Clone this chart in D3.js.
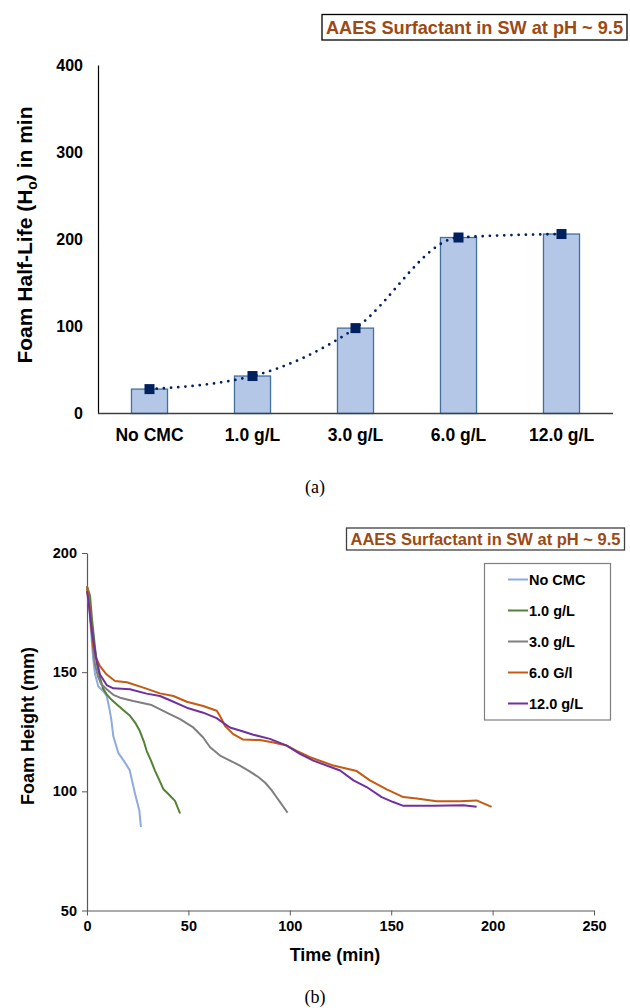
<!DOCTYPE html>
<html>
<head>
<meta charset="utf-8">
<script src="https://cdn.jsdelivr.net/npm/d3@7"></script>
<style>
  body { margin: 0; background: #fff; }
  svg { display: block; font-family: "Liberation Sans", Arial, sans-serif; }
  .bold { font-weight: bold; }
</style>
</head>
<body>
<svg width="630" height="1008"></svg>
<script>
// panel (a) data
var categories = ["No CMC", "1.0 g/L", "3.0 g/L", "6.0 g/L", "12.0 g/L"];
var halfLife = [28, 43, 98, 202, 206];
var halfTicks = [0, 100, 200, 300, 400];

// panel (b) data: [time (min), foam height (mm)]
var seriesNames = ["No CMC", "1.0 g/L", "3.0 g/L", "6.0 G/l", "12.0 g/L"];
var seriesColors = ["#8FAADC", "#548235", "#7F7F7F", "#C55A11", "#7030A0"];
var noCmc = [[0,186],[1,178],[2,167],[3,156],[4,149],[5.6,144],[8,142],[9.7,140],[11,135],[12,130],[13,123],[15.5,116],[18,113],[21,109],[23.7,99],[25.8,92],[26.6,85]];
var cmc1 = [[0,186],[1.5,182],[2.5,172],[4,160],[5,153],[6.4,147.6],[8,143],[9.7,140.7],[12,138.5],[14.6,136.5],[18,134],[21.2,131.7],[24,128.5],[26,125.4],[28,121],[29.4,117],[31.5,113],[33.5,108.7],[35.5,105],[37.6,101],[40,99],[43.4,96],[45.9,90.7]];
var cmc3 = [[0,186],[1,180],[2,170],[3,160],[4,153],[5.5,148],[7,145],[9.7,142.8],[13,140.5],[16.3,139.3],[22.8,137.9],[31.9,136.2],[39.3,133],[45.9,130.3],[52.4,126.8],[57.3,122.6],[60.7,118.5],[65.6,115],[70.5,112.9],[75.4,110.8],[80,108.5],[84.5,106],[88,103.5],[91.1,100.4],[93.5,97.5],[95.2,95.5],[97,93.3],[98.9,91]];
var cmc6 = [[0,186],[1,180],[2,170],[3.1,160.8],[4.5,156],[6.4,152.5],[9.7,149],[13.8,146.3],[19.6,145.8],[27.8,143.5],[36,141.1],[42.6,140],[49.2,137.6],[57.3,135.8],[64,133.8],[66,131],[68,127.5],[72.1,124],[77,121.7],[85.3,121.5],[91.9,120.5],[98.5,119.2],[103.4,117],[110,114.3],[121.5,110.8],[133,108.5],[139.5,104.6],[147.8,100.8],[156,97.6],[162.6,97],[172.4,95.8],[183.9,95.8],[192.1,96.2],[199.5,93.5]];
var cmc12 = [[0,184],[1,178],[2,170],[3.1,163.5],[4.5,156],[6.4,149],[9.7,144.6],[13,143.2],[21.2,142.8],[29.4,141],[36,140],[40.9,138.2],[49.2,135.1],[57.3,133],[63.9,130.7],[70.5,126.8],[77,125.1],[82,123.75],[90.2,122],[98.5,119.2],[105,115.7],[111.6,112.9],[124.8,108.75],[131.4,104.6],[137.9,101.8],[145.3,97.6],[151,95.5],[156,93.9],[170.8,93.9],[185.6,94.2],[192.1,93.5]];
var timeTicks = [0, 50, 100, 150, 200, 250];
var heightTicks = [50, 100, 150, 200];

var titleText = "AAES Surfactant in SW at pH ~ 9.5";
var titleColor = "#9C4A14";
var fontStack = '"Liberation Sans", Arial, sans-serif';

var svg = d3.select('svg');

// ---------- panel (a) ----------
var xa = d3.scaleBand().domain(categories).range([98, 613]).paddingInner(0.65).paddingOuter(0.325);
var ya = d3.scaleLinear().domain([0, 400]).range([413.5, 65]);

var ta = svg.append('g');
ta.append('rect').attr('x', 322).attr('y', 14.5).attr('width', 305).attr('height', 25.5)
  .attr('fill', '#fff').attr('stroke', '#000').attr('stroke-width', 1.3);
ta.append('text').attr('class', 'bold').attr('x', 474.5).attr('y', 33.5)
  .attr('text-anchor', 'middle').attr('font-size', 18.5).attr('fill', titleColor)
  .attr('textLength', 297).attr('lengthAdjust', 'spacingAndGlyphs').text(titleText);

var ay = svg.append('g').attr('transform', 'translate(98,0)')
  .call(d3.axisLeft(ya).tickValues(halfTicks).tickSize(0).tickPadding(15));
ay.select('.domain').attr('stroke', '#000').attr('stroke-width', 1.2);
ay.selectAll('text').attr('class', 'bold').attr('font-size', 16).attr('fill', '#000')
  .attr('font-family', fontStack);

svg.selectAll('rect.bar').data(halfLife).enter().append('rect').attr('class', 'bar')
  .attr('x', function(d, i) { return xa(categories[i]); })
  .attr('y', function(d) { return ya(d); })
  .attr('width', xa.bandwidth())
  .attr('height', function(d) { return ya(0) - ya(d); })
  .attr('fill', '#B4C7E7').attr('stroke', '#41719C').attr('stroke-width', 1.3);

var ax = svg.append('g').attr('transform', 'translate(0,413.5)')
  .call(d3.axisBottom(xa).tickSize(0).tickPadding(15));
ax.select('.domain').attr('d', 'M98,0H613').attr('stroke', '#404040').attr('stroke-width', 1.3);
ax.selectAll('text').attr('class', 'bold').attr('font-size', 17.5).attr('fill', '#000')
  .attr('font-family', fontStack);

var lineA = d3.line()
  .x(function(d, i) { return xa(categories[i]) + xa.bandwidth() / 2; })
  .y(function(d) { return ya(d); })
  .curve(d3.curveMonotoneX);
svg.append('path').datum(halfLife).attr('d', lineA)
  .attr('fill', 'none').attr('stroke', '#002060').attr('stroke-width', 2.8)
  .attr('stroke-linecap', 'round').attr('stroke-dasharray', '0 7.2');

svg.selectAll('rect.mk').data(halfLife).enter().append('rect').attr('class', 'mk')
  .attr('x', function(d, i) { return xa(categories[i]) + xa.bandwidth() / 2 - 5; })
  .attr('y', function(d) { return ya(d) - 5; })
  .attr('width', 10).attr('height', 10).attr('fill', '#002060');

var yla = svg.append('text').attr('class', 'bold').attr('font-size', 21)
  .attr('text-anchor', 'middle').attr('transform', 'translate(32,235) rotate(-90)');
yla.append('tspan').text('Foam Half-Life (H');
yla.append('tspan').attr('font-size', 14).attr('dy', 5).text('o');
yla.append('tspan').attr('dy', -5).text(') in min');

svg.append('text').attr('x', 315).attr('y', 493).attr('text-anchor', 'middle')
  .attr('font-family', '"Liberation Serif", "Times New Roman", serif').attr('font-size', 18).text('(a)');

// ---------- panel (b) ----------
var xb = d3.scaleLinear().domain([0, 250]).range([87, 594]);
var yb = d3.scaleLinear().domain([50, 200]).range([910.5, 553]);

var tb = svg.append('g');
tb.append('rect').attr('x', 346.5).attr('y', 528).attr('width', 278).attr('height', 22)
  .attr('fill', '#fff').attr('stroke', '#404040').attr('stroke-width', 1.3);
tb.append('text').attr('class', 'bold').attr('x', 485.5).attr('y', 545)
  .attr('text-anchor', 'middle').attr('font-size', 16.5).attr('fill', titleColor)
  .attr('textLength', 270).attr('lengthAdjust', 'spacingAndGlyphs').text(titleText);

var by = svg.append('g').attr('transform', 'translate(87,0)')
  .call(d3.axisLeft(yb).tickValues(heightTicks).tickSize(5).tickSizeOuter(0).tickPadding(5));
by.select('.domain').attr('stroke', '#595959').attr('stroke-width', 1.2);
by.selectAll('.tick line').attr('stroke', '#595959');
by.selectAll('text').attr('class', 'bold').attr('font-size', 14.5).attr('fill', '#000')
  .attr('font-family', fontStack);

var bx = svg.append('g').attr('transform', 'translate(0,910.5)')
  .call(d3.axisBottom(xb).tickValues(timeTicks).tickSize(5).tickSizeOuter(0).tickPadding(5));
bx.select('.domain').attr('stroke', '#595959').attr('stroke-width', 1.2);
bx.selectAll('.tick line').attr('stroke', '#595959');
bx.selectAll('text').attr('class', 'bold').attr('font-size', 14.5).attr('fill', '#000')
  .attr('font-family', fontStack);

var lineB = d3.line().x(function(d) { return xb(d[0]); }).y(function(d) { return yb(d[1]); });
var allSeries = [noCmc, cmc1, cmc3, cmc6, cmc12];
svg.selectAll('path.series').data(allSeries).enter().append('path').attr('class', 'series')
  .attr('d', lineB).attr('fill', 'none')
  .attr('stroke', function(d, i) { return seriesColors[i]; })
  .attr('stroke-width', 2).attr('stroke-linejoin', 'round');

// legend
var lg = svg.append('g');
lg.append('rect').attr('x', 484.5).attr('y', 563.5).attr('width', 126).attr('height', 156.5)
  .attr('fill', '#fff').attr('stroke', '#7F7F7F').attr('stroke-width', 1.2);
var li = lg.selectAll('g.item').data(seriesNames).enter().append('g').attr('class', 'item')
  .attr('transform', function(d, i) { return 'translate(508,' + (579.5 + i * 31) + ')'; });
li.append('line').attr('x1', 0).attr('x2', 20).attr('y1', 0).attr('y2', 0)
  .attr('stroke', function(d, i) { return seriesColors[i]; }).attr('stroke-width', 2);
li.append('text').attr('class', 'bold').attr('x', 21).attr('y', 5.5).attr('font-size', 14.5).text(function(d) { return d; });

svg.append('text').attr('class', 'bold').attr('font-size', 18).attr('text-anchor', 'middle')
  .attr('transform', 'translate(34,726) rotate(-90)').text('Foam Height (mm)');
svg.append('text').attr('class', 'bold').attr('font-size', 18).attr('text-anchor', 'middle')
  .attr('x', 335).attr('y', 961).text('Time (min)');

svg.append('text').attr('x', 315).attr('y', 1003).attr('text-anchor', 'middle')
  .attr('font-family', '"Liberation Serif", "Times New Roman", serif').attr('font-size', 18).text('(b)');
</script>
</body>
</html>
